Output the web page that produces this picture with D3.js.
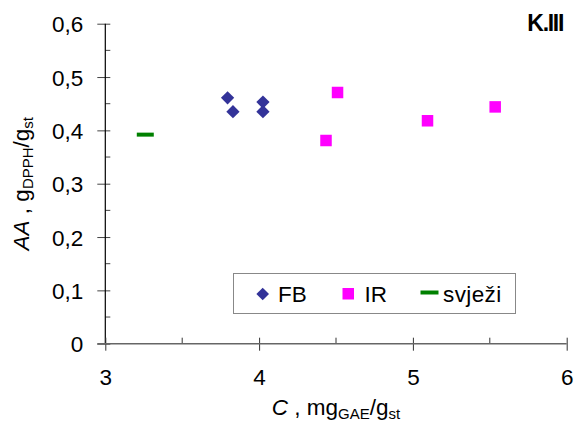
<!DOCTYPE html>
<html>
<head>
<meta charset="utf-8">
<script src="https://cdn.jsdelivr.net/npm/d3@7"></script>
<style>
  html, body { margin: 0; padding: 0; background: #fff; }
  svg { display: block; font-family: "Liberation Sans", Arial, sans-serif; }
</style>
</head>
<body>
<svg id="chart" width="575" height="425"></svg>
<script>
// Data
const fbX = [3.795, 3.83, 4.025, 4.025];
const fbY = [0.461, 0.435, 0.453, 0.435];
const irX = [4.51, 4.435, 5.095, 5.535];
const irY = [0.471, 0.381, 0.418, 0.444];
const svjeziX = [3.26];
const svjeziY = [0.392];
const xTicks = [3, 4, 5, 6];
const xMinorTicks = [3.5, 4.5, 5.5];
const yTicks = [0, 0.1, 0.2, 0.3, 0.4, 0.5, 0.6];
const yMinorTicks = [0.05, 0.15, 0.25, 0.35, 0.45, 0.55];
const seriesNames = ["FB", "IR", "svježi"];
const panelLabel = "K.III";

const svg = d3.select("#chart");
const pL = 105.3, pR = 566.7, pT = 23.7, pB = 343.7;
const x = d3.scaleLinear().domain([3, 6]).range([pL, pR]);
const y = d3.scaleLinear().domain([0, 0.6]).range([pB, pT]);
const fmt = d => d3.format(".1f")(d).replace(".", ",");

// Y axis
const yAxis = svg.append("g").attr("transform", `translate(${pL},0)`)
  .call(d3.axisLeft(y).tickValues(yTicks).tickSize(8).tickPadding(14)
    .tickFormat(d => d === 0 ? "0" : fmt(d)));
yAxis.select(".domain").remove();
yAxis.selectAll(".tick line").attr("x2", -8).attr("x1", 5).attr("stroke", "#444");
yAxis.selectAll("text").attr("font-size", 22.5).attr("fill", "#000")
  .attr("font-family", "Liberation Sans, Arial, sans-serif").attr("dy", "0.36em");
svg.append("g").selectAll("line").data(yMinorTicks).join("line")
  .attr("x1", pL).attr("x2", pL + 5).attr("y1", d => y(d)).attr("y2", d => y(d))
  .attr("stroke", "#444");
svg.append("line").attr("x1", pL).attr("x2", pL).attr("y1", pT).attr("y2", pB)
  .attr("stroke", "#000").attr("stroke-width", 1.2);

// X axis
const xAxis = svg.append("g").attr("transform", `translate(0,${pB})`)
  .call(d3.axisBottom(x).tickValues(xTicks).tickSize(7).tickPadding(18).tickFormat(d3.format("d")));
xAxis.select(".domain").remove();
xAxis.selectAll(".tick line").attr("y1", -6).attr("y2", 7).attr("stroke", "#333");
xAxis.selectAll("text").attr("font-size", 22.5).attr("fill", "#000")
  .attr("font-family", "Liberation Sans, Arial, sans-serif");
svg.append("g").selectAll("line").data(xMinorTicks).join("line")
  .attr("x1", d => x(d)).attr("x2", d => x(d)).attr("y1", pB - 6).attr("y2", pB)
  .attr("stroke", "#333");
svg.append("line").attr("x1", pL - 8).attr("x2", pR).attr("y1", pB).attr("y2", pB)
  .attr("stroke", "#666").attr("stroke-width", 1.6);

// Points
const diamond = d3.symbol().type(d3.symbolSquare).size(88);
svg.append("g").selectAll("path").data(fbX.map((v, i) => [v, fbY[i]])).join("path")
  .attr("d", diamond)
  .attr("transform", d => `translate(${x(d[0])},${y(d[1])}) rotate(45)`)
  .attr("fill", "#333399");
const sq = 11.5;
svg.append("g").selectAll("rect").data(irX.map((v, i) => [v, irY[i]])).join("rect")
  .attr("x", d => x(d[0]) - sq / 2).attr("y", d => y(d[1]) - sq / 2)
  .attr("width", sq).attr("height", sq).attr("fill", "#FF00FF");
svg.append("g").selectAll("line").data(svjeziX.map((v, i) => [v, svjeziY[i]])).join("line")
  .attr("x1", d => x(d[0]) - 8.5).attr("x2", d => x(d[0]) + 8.5)
  .attr("y1", d => y(d[1])).attr("y2", d => y(d[1]))
  .attr("stroke", "#008000").attr("stroke-width", 4);

// Legend
const lg = svg.append("g");
lg.append("rect").attr("x", 233.5).attr("y", 273.5).attr("width", 282).attr("height", 40)
  .attr("fill", "#fff").attr("stroke", "#888").attr("stroke-width", 1);
lg.append("path").attr("d", d3.symbol().type(d3.symbolSquare).size(80))
  .attr("transform", "translate(262.7,294) rotate(45)").attr("fill", "#333399");
lg.append("text").attr("x", 278).attr("y", 301.5).attr("font-size", 22.5).text(seriesNames[0]);
lg.append("rect").attr("x", 342.5).attr("y", 288).attr("width", 11.5).attr("height", 11.5).attr("fill", "#FF00FF");
lg.append("text").attr("x", 364.5).attr("y", 301.5).attr("font-size", 22.5).text(seriesNames[1]);
lg.append("line").attr("x1", 420.5).attr("x2", 438.5).attr("y1", 292.5).attr("y2", 292.5)
  .attr("stroke", "#008000").attr("stroke-width", 4);
lg.append("text").attr("x", 443).attr("y", 301.5).attr("font-size", 22.5)
  .attr("letter-spacing", 0.4).text(seriesNames[2]);

// Panel label
svg.append("text").attr("x", 563).attr("y", 31).attr("text-anchor", "end")
  .attr("font-size", 23).attr("font-weight", "bold").attr("letter-spacing", -1.3).text(panelLabel);

// X axis title
const xt = svg.append("text").attr("x", (pL + pR) / 2).attr("y", 415).attr("text-anchor", "middle")
  .attr("font-size", 22.5);
xt.append("tspan").attr("font-style", "italic").text("C");
xt.append("tspan").text(" , mg");
xt.append("tspan").attr("font-size", 15).attr("dy", 4).text("GAE");
xt.append("tspan").attr("dy", -4).text("/g");
xt.append("tspan").attr("font-size", 15).attr("dy", 4).text("st");

// Y axis title
const yt = svg.append("text").attr("transform", `translate(29,${(pT + pB) / 2}) rotate(-90)`)
  .attr("text-anchor", "middle").attr("font-size", 22.5);
yt.append("tspan").attr("font-style", "italic").text("AA");
yt.append("tspan").text(" , g");
yt.append("tspan").attr("font-size", 15).attr("dy", 4).text("DPPH");
yt.append("tspan").attr("dy", -4).text("/g");
yt.append("tspan").attr("font-size", 15).attr("dy", 4).text("st");
</script>
</body>
</html>
